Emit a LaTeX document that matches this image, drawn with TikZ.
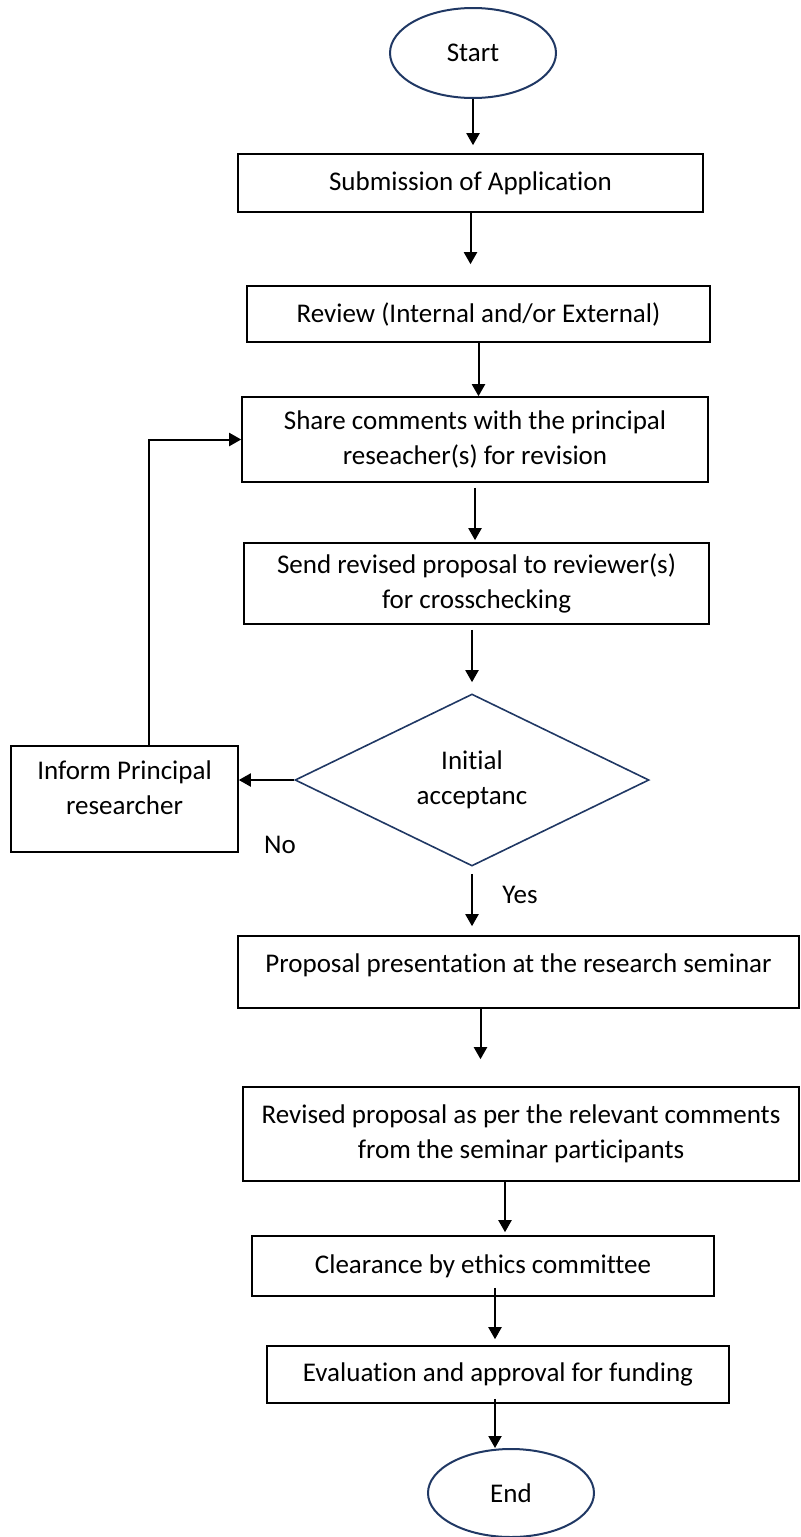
\documentclass[tikz,border=0pt]{standalone}
\usepackage{fontspec}
\setmainfont{Carlito}[Ligatures=CommonOff]
\usetikzlibrary{shapes.geometric,arrows.meta}
\definecolor{navy}{HTML}{203864}
\begin{document}
\begin{tikzpicture}[x=0.5pt, y=-0.5pt,
		box/.style = {draw, line width=0.8pt, align=center, inner sep=0pt, font=\fontsize{13.5}{17.5}\selectfont},
		oval/.style = {draw=navy, ellipse, line width=1pt, inner sep=0pt, font=\fontsize{13.5}{17.5}\selectfont},
		lbl/.style = {font=\fontsize{13.5}{17.5}\selectfont},
		arr/.style = {-{Triangle[length=6pt, width=6.5pt]}, line width=1pt}]
		\useasboundingbox (0,0) rectangle (800,1537);
		\node[oval, minimum width=83pt, minimum height=45pt] (start) at (473,53) {Start};
		\node[box, minimum width=232.5pt, minimum height=29pt] (sub) at (470.5,183) {Submission of Application};
		\node[box, minimum width=231.5pt, minimum height=28pt] (review) at (478.5,314) {Review (Internal and/or External)};
		\node[box, minimum width=233pt, minimum height=42.5pt] (share) at (475,439.5) {Share comments with the principal\\reseacher(s) for revision};
		\node[box, minimum width=232.5pt, minimum height=40.5pt] (send) at (476.5,583.5) {Send revised proposal to reviewer(s)\\for crosschecking};
		\node[box, draw=navy, diamond, minimum width=177pt, minimum height=86pt] (dec) at (472,780) {Initial\\acceptanc};
		\node[box, minimum width=113.5pt, minimum height=53pt, text depth=11pt] (inform) at (124.5,799) {Inform Principal\\researcher};
		\node[box, minimum width=280.5pt, minimum height=36pt, text depth=8.5pt] (prop) at (518.5,972) {Proposal presentation at the research seminar};
		\node[box, minimum width=278pt, minimum height=47pt] (rev) at (521,1134) {Revised proposal as per the relevant comments\\from the seminar participants};
		\node[box, minimum width=231pt, minimum height=30pt] (clear) at (483,1266) {Clearance by ethics committee};
		\node[box, minimum width=231pt, minimum height=28.5pt] (eval) at (498,1374.5) {Evaluation and approval for funding};
		\node[oval, minimum width=83pt, minimum height=44pt] (end) at (511,1493) {End};
		\node[lbl] (no) at (280,845) {No};
		\node[lbl] (yes) at (520,895) {Yes};
		\draw[arr, shorten >=4pt] (start) -- (start |- sub.north);
		\draw[arr, shorten >=10.5pt] (sub.south) -- (sub.south |- review.north);
		\draw[arr] (review.south) -- (review.south |- share.north);
		\draw[arr, shorten <=2.5pt, shorten >=1pt] (share.south) -- (share.south |- send.north);
		\draw[arr, shorten <=2.5pt, shorten >=5.5pt] (dec.north |- send.south) -- (dec.north);
		\draw[arr, shorten <=3.5pt, shorten >=4.5pt] (dec.south) -- (dec.south |- prop.north);
		\draw[arr, shorten >=13.5pt] ([xshift=-19pt]prop.south) -- ([xshift=-19pt]prop.south |- rev.north);
		\draw[arr, shorten >=1.5pt] ([xshift=-8pt]rev.south) -- ([xshift=-8pt]rev.south |- clear.north);
		\draw[arr, shorten <=-4.5pt, shorten >=3pt] ([xshift=6pt]clear.south) -- ([xshift=6pt]clear.south |- eval.north);
		\draw[arr, shorten <=-2.5pt] ([xshift=-1.5pt]eval.south) -- ([xshift=-1.5pt]eval.south |- end.north);
		\draw[arr] (dec.west) -- (dec.west -| inform.east);
		\draw[arr] ([xshift=12.25pt]inform.north) |- (share.west);
\end{tikzpicture}
\end{document}
